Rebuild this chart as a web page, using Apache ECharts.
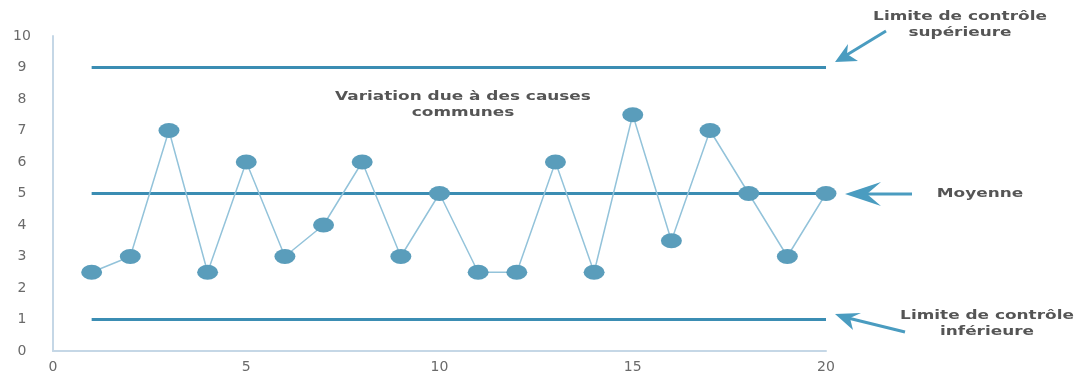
<!DOCTYPE html>
<html>
<head>
<meta charset="utf-8">
<script src="https://cdn.jsdelivr.net/npm/echarts@6/dist/echarts.min.js"></script>
<style>
  html, body { margin: 0; padding: 0; background: #fff; }
  #chart { width: 1080px; height: 374px; }
</style>
</head>
<body>
<div id="chart"></div>
<script>
// Control chart: 20 samples against a centre line and two control limits
const samples = [1, 2, 3, 4, 5, 6, 7, 8, 9, 10, 11, 12, 13, 14, 15, 16, 17, 18, 19, 20];
const values = [2.5, 3, 7, 2.5, 6, 3, 4, 6, 3, 5, 2.5, 2.5, 6, 2.5, 7.5, 3.5, 7, 5, 3, 5];
const upperLimit = 9;
const meanLine = 5;
const lowerLimit = 1;
const xTicks = [0, 5, 10, 15, 20];
const yTicks = [0, 1, 2, 3, 4, 5, 6, 7, 8, 9, 10];

const lineBlue = '#3b8db3';
const pointBlue = '#5a9dbb';
const linkBlue = '#93c3da';
const arrowBlue = '#4a9cc0';
const textGray = '#555';
const noteFont = 'bold 13px "DejaVu Sans"';
const noteStretch = 1.3;

const chart = echarts.init(document.getElementById('chart'));

function limitSeries(v) {
  return {
    type: 'line',
    data: [[samples[0], v], [samples[samples.length - 1], v]],
    symbol: 'none',
    silent: true,
    lineStyle: { color: lineBlue, width: 3 },
    z: 1
  };
}

function note(x, y, text) {
  return {
    type: 'text', x: x, y: y, scaleX: noteStretch,
    style: { text: text, fill: textGray, font: noteFont, align: 'center', verticalAlign: 'middle', lineHeight: 16 }
  };
}

chart.setOption({
  animation: false,
  grid: { left: 53, right: 254, top: 36, bottom: 23, containLabel: false },
  xAxis: {
    type: 'value', min: 0, max: 20, interval: 5,
    axisLine: { show: true, lineStyle: { color: '#c5d7e6', width: 2 } },
    axisTick: { show: false },
    splitLine: { show: false },
    axisLabel: {
      color: '#6a6a6a', fontSize: 14, fontFamily: 'DejaVu Sans', margin: 9,
      formatter: v => xTicks.includes(v) ? String(v) : ''
    }
  },
  yAxis: {
    type: 'value', min: 0, max: 10, interval: 1,
    axisLine: { show: true, lineStyle: { color: '#c5d7e6', width: 2 } },
    axisTick: { show: false },
    splitLine: { show: false },
    axisLabel: {
      color: '#6a6a6a', fontSize: 14, fontFamily: 'DejaVu Sans', margin: 31, align: 'center',
      formatter: v => yTicks.includes(v) ? String(v) : ''
    }
  },
  series: [
    limitSeries(upperLimit),
    limitSeries(meanLine),
    limitSeries(lowerLimit),
    {
      type: 'line',
      data: samples.map((s, i) => [s, values[i]]),
      symbol: 'path://M0,0 A10,7 0 1,1 0,0.01 Z',
      symbolSize: [21, 15],
      itemStyle: { color: pointBlue },
      lineStyle: { color: linkBlue, width: 1.5 },
      z: 3
    }
  ],
  graphic: [
    // annotation arrows
    { type: 'line', shape: { x1: 886, y1: 31, x2: 845, y2: 56 }, style: { stroke: arrowBlue, lineWidth: 3 } },
    { type: 'polygon', shape: { points: [[835, 62], [848, 44], [847, 54], [858, 61]] }, style: { fill: arrowBlue } },
    { type: 'line', shape: { x1: 912, y1: 194, x2: 855, y2: 194 }, style: { stroke: arrowBlue, lineWidth: 3 } },
    { type: 'polygon', shape: { points: [[845, 194], [881, 182], [867, 194], [881, 206]] }, style: { fill: arrowBlue } },
    { type: 'line', shape: { x1: 905, y1: 332, x2: 848, y2: 318 }, style: { stroke: arrowBlue, lineWidth: 3 } },
    { type: 'polygon', shape: { points: [[835, 314], [861, 313], [850, 318], [853, 330]] }, style: { fill: arrowBlue } },
    // annotation texts
    note(960, 25, 'Limite de contrôle\nsupérieure'),
    note(980, 194, 'Moyenne'),
    note(987, 324, 'Limite de contrôle\ninférieure'),
    note(463, 105, 'Variation due à des causes\ncommunes')
  ]
});
</script>
</body>
</html>
